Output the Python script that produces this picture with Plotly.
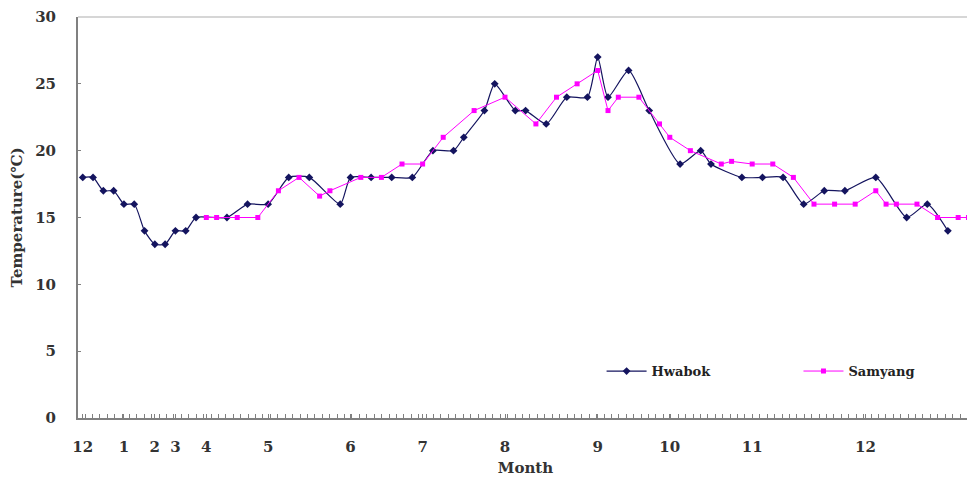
import plotly.graph_objects as go

# Category index positions (sampling dates) along the x axis
n_categories = 87
month_tick_pos = [0, 4, 7, 9, 12, 18, 26, 33, 41, 50, 57, 65, 76]
month_tick_labels = ["12", "1", "2", "3", "4", "5", "6", "7", "8", "9", "10", "11", "12"]

# Hwabok series (category index, temperature)
hwabok_x = [0, 1, 2, 3, 4, 5, 6, 7, 8, 9, 10, 11, 14, 16, 18, 20, 22, 25, 26, 28, 30, 32,
            34, 36, 37, 39, 40, 42, 43, 45, 47, 49, 50, 51, 53, 55, 58, 60, 61, 64, 66, 68,
            70, 72, 74, 77, 80, 82, 84]
hwabok_y = [18, 18, 17, 17, 16, 16, 14, 13, 13, 14, 14, 15, 15, 16, 16, 18, 18, 16, 18, 18, 18, 18,
            20, 20, 21, 23, 25, 23, 23, 22, 24, 24, 27, 24, 26, 23, 19, 20, 19, 18, 18, 18,
            16, 17, 17, 18, 15, 16, 14]

# Samyang series (category index, temperature)
samyang_x = [12, 13, 15, 17, 19, 21, 23, 24, 27, 29, 31, 33, 35, 38, 41, 44, 46, 48, 50, 51,
             52, 54, 56, 57, 59, 62, 63, 65, 67, 69, 71, 73, 75, 77, 78, 79, 81, 83, 85, 86]
samyang_y = [15, 15, 15, 15, 17, 18, 16.6, 17, 18, 18, 19, 19, 21, 23, 24, 22, 24, 25, 26, 23,
             24, 24, 22, 21, 20, 19, 19.2, 19, 19, 18, 16, 16, 16, 17, 16, 16, 16, 15, 15, 15]

y_ticks = [0, 5, 10, 15, 20, 25, 30]

FONT = "DejaVu Serif"
navy = "#14145f"
magenta = "#ff00ff"
txt = "#333333"

fig = go.Figure()
fig.add_trace(go.Scatter(
    x=hwabok_x, y=hwabok_y, name="Hwabok", mode="lines+markers", legend="legend",
    line=dict(color=navy, width=1.2, shape="spline", smoothing=0.6),
    marker=dict(symbol="diamond", size=6, color=navy),
))
fig.add_trace(go.Scatter(
    x=samyang_x, y=samyang_y, name="Samyang", mode="lines+markers", legend="legend2",
    line=dict(color=magenta, width=1),
    marker=dict(symbol="square", size=5, color=magenta),
))

legend_common = dict(
    xanchor="left", yanchor="middle", bgcolor="rgba(0,0,0,0)",
    font=dict(family=FONT, size=13, color="#222222", weight="bold"),
    itemwidth=40,
)

# page body has an 8px margin, so the figure is sized to fit inside the window
fig.update_layout(
    width=967, height=473,
    margin=dict(l=70, r=2, t=9, b=63, autoexpand=False),
    paper_bgcolor="white", plot_bgcolor="white",
    font=dict(family=FONT, size=15, color=txt),
    showlegend=True,
    legend=dict(x=0.585, y=0.117, **legend_common),
    legend2=dict(x=0.805, y=0.117, **legend_common),
)
fig.update_xaxes(
    range=[-0.46, 86.44], automargin=False,
    tickmode="array", tickvals=month_tick_pos, ticktext=month_tick_labels,
    ticks="inside", ticklen=4, tickcolor="#808080",
    minor=dict(tickmode="linear", tick0=-0.5, dtick=0.72, ticks="inside", ticklen=4, tickcolor="#808080"),
    showline=True, linecolor="#808080", linewidth=2, mirror=False,
    showgrid=False, zeroline=False,
    tickfont=dict(family=FONT, size=15, color=txt, weight="bold"),
    ticklabelstandoff=14,
    title=dict(text="Month", font=dict(family=FONT, size=15, color=txt, weight="bold"), standoff=7),
)
fig.update_yaxes(
    range=[0, 30], automargin=False, tickmode="array", tickvals=y_ticks,
    ticks="inside", ticklen=3, tickcolor="#808080",
    showline=True, linecolor="#808080", linewidth=2,
    showgrid=False, zeroline=False,
    tickfont=dict(family=FONT, size=15, color=txt, weight="bold"),
    ticklabelstandoff=17,
    title=dict(text="Temperature(℃)", font=dict(family=FONT, size=15, color=txt, weight="bold"), standoff=10),
)
# light frame on top and right
fig.add_shape(type="line", xref="paper", yref="paper", x0=0, x1=1, y0=1, y1=1,
              line=dict(color="#c8c8c8", width=1.5))
fig.add_shape(type="line", xref="paper", yref="paper", x0=1, x1=1, y0=0, y1=1,
              line=dict(color="#c8c8c8", width=1.5))

fig.write_html("out.html")
